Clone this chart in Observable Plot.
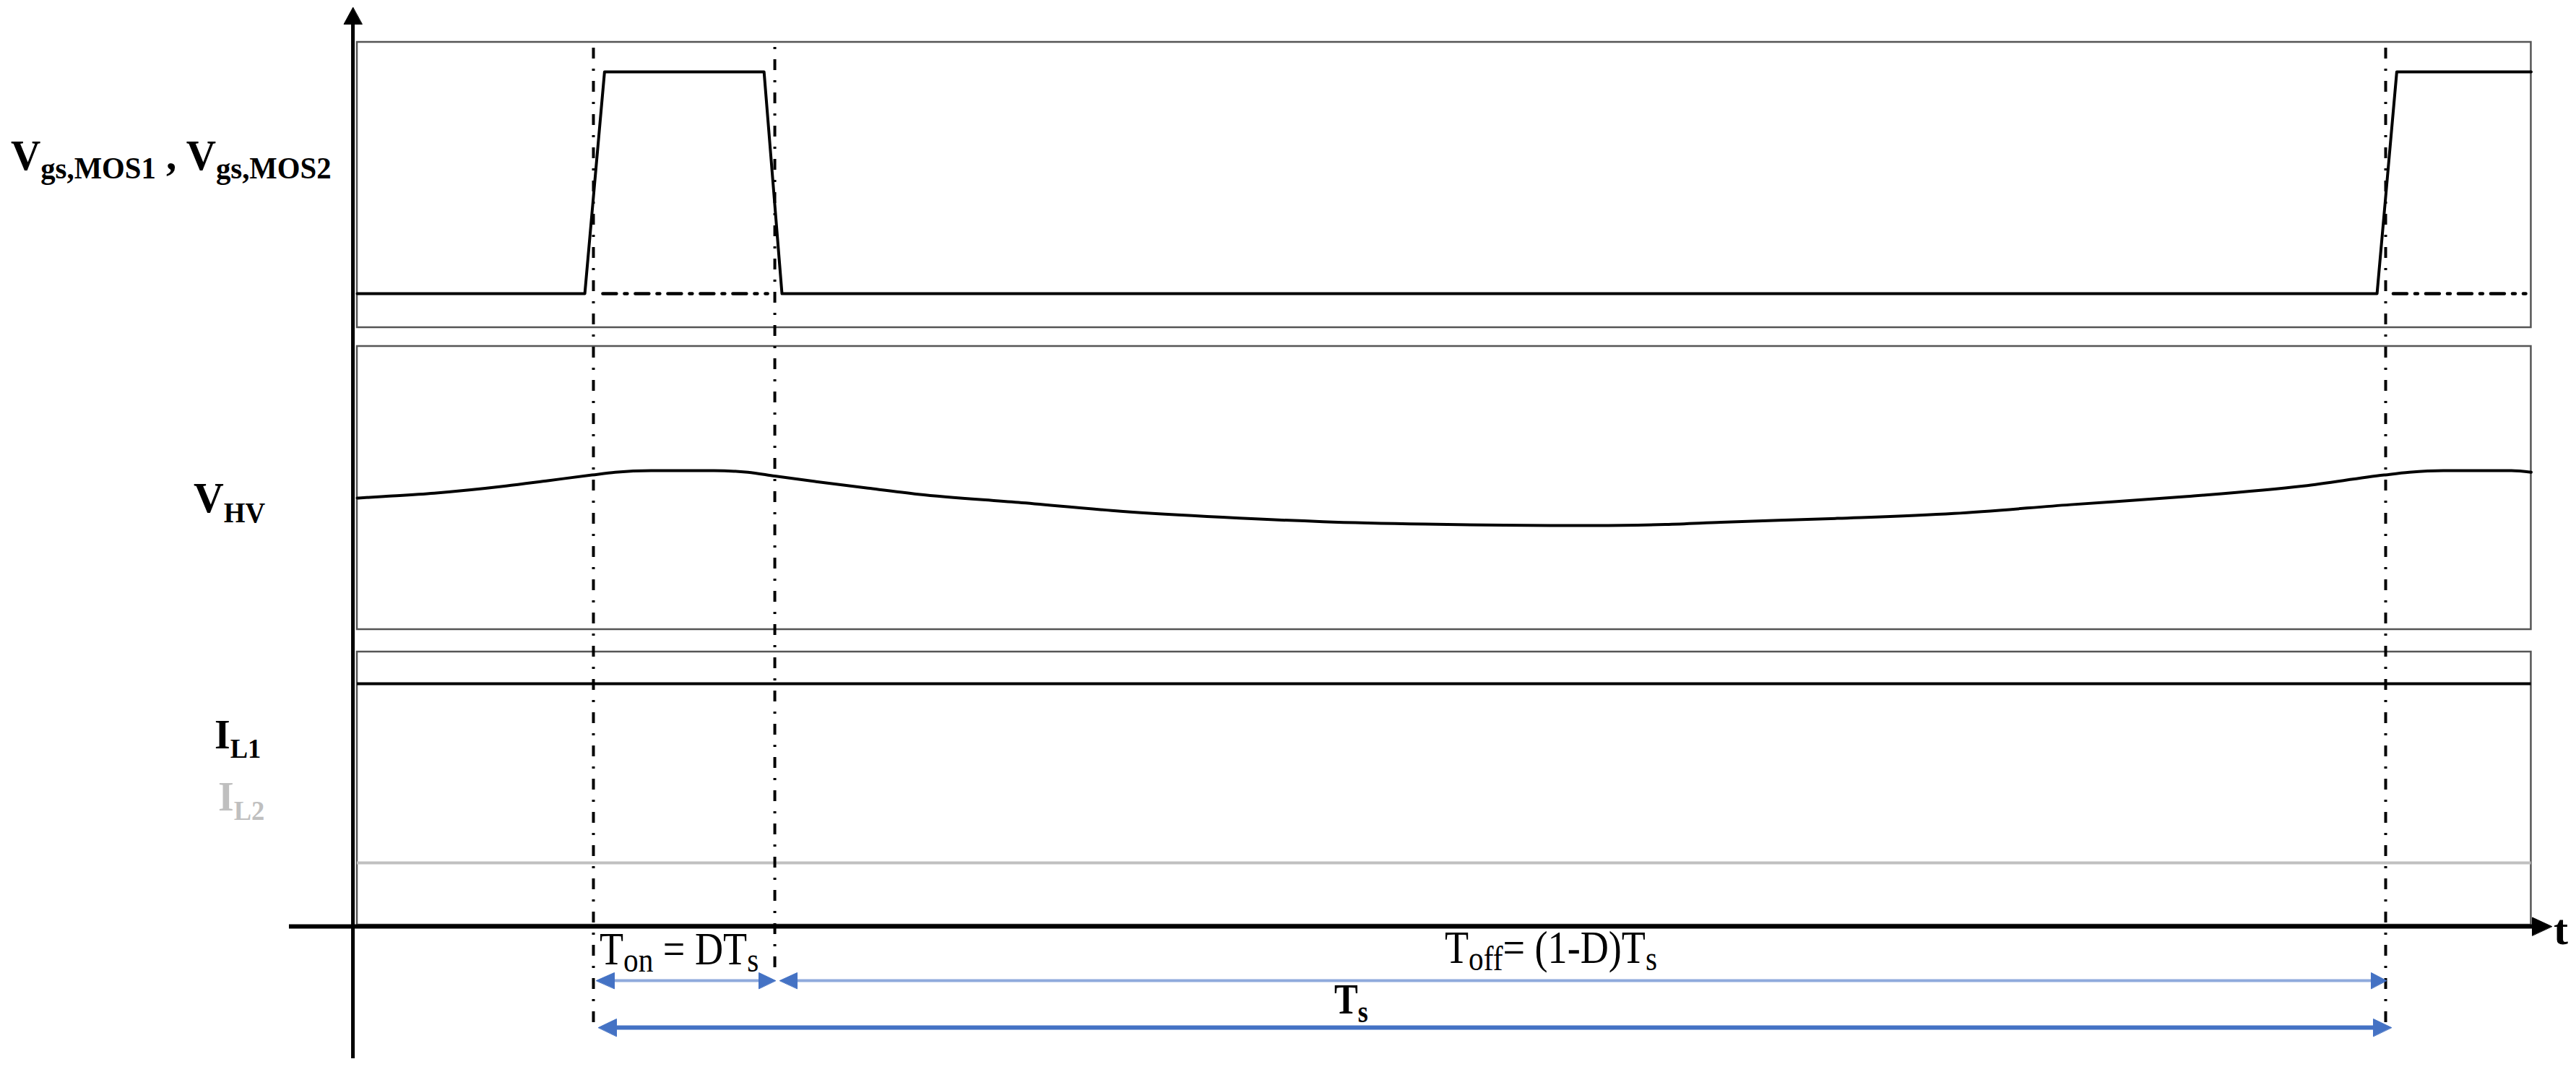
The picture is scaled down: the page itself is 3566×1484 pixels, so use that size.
<!DOCTYPE html>
<html>
<head>
<meta charset="utf-8">
<script src="https://cdn.jsdelivr.net/npm/d3@7"></script>
<script src="https://cdn.jsdelivr.net/npm/@observablehq/plot@0.6"></script>
<style>
html,body{margin:0;padding:0;background:#fff;overflow:hidden;}
#chart svg{display:block;}
</style>
</head>
<body>
<div id="chart"></div>
<script>
// ================= DATA (time normalised to the switching period Ts = 1) =================
const Ts = 1;
const tOn = 0.1318;            // turn-on instant
const D = 0.1012;              // duty ratio
const tOff = tOn + D * Ts;     // turn-off instant
const tNext = tOn + Ts;        // next turn-on
const tEnd = 1.213;            // end of the drawn window

// gate signals (normalised 0 = low, 1 = high)
const vgsTime  = [0, 0.127, 0.138, 0.227, 0.237, 1.127, 1.138, 1.213];
const vgsLevel = [0, 0, 1, 1, 0, 0, 1, 1];
// second gate signal (dash-dot) stays low while the first one is high
const vgs2Segments = [[0.137, 0.229], [1.136, 1.210]];

// high-voltage side ripple (normalised 0 = min, 1 = max)
const vhvTime  = [0, 0.015, 0.043, 0.083, 0.107, 0.131, 0.144, 0.164, 0.199, 0.218, 0.233, 0.256, 0.285, 0.313, 0.369, 0.426, 0.483, 0.539, 0.596, 0.640, 0.690, 0.730, 0.761, 0.826, 0.891, 0.956, 1.021, 1.086, 1.131, 1.145, 1.164, 1.202, 1.213];
const vhvLevel = [0.50, 0.53, 0.59, 0.72, 0.82, 0.92, 0.97, 1.00, 1.00, 0.97, 0.90, 0.80, 0.68, 0.57, 0.42, 0.26, 0.15, 0.07, 0.025, 0.005, 0.00, 0.02, 0.06, 0.13, 0.22, 0.38, 0.53, 0.72, 0.92, 0.97, 1.00, 1.00, 0.97];

// inductor currents (normalised)
const iL1Level = 1;
const iL2Level = 0;

// text
const channelLabels = [
  {name: "vgs", parts: [["V", 0], ["gs,MOS1", 1], [" , V", 0], ["gs,MOS2", 1]]},
  {name: "vhv", parts: [["V", 0], ["HV", 1]]},
  {name: "il1", parts: [["I", 0], ["L1", 1]]},
  {name: "il2", parts: [["I", 0], ["L2", 1]]}
];
const intervalLabels = [
  {name: "ton",  parts: [["T", 0], ["on", 1], [" = DT", 0], ["s", 1]]},
  {name: "toff", parts: [["T", 0], ["off", 1], ["= (1-D)T", 0], ["s", 1]]},
  {name: "ts",   parts: [["T", 0], ["s", 1]]}
];
const axisLabel = "t";

// ================= LAYOUT (vertical units, time axis at 0) =================
const W = 3566, H = 1484;
const xDomain = [-0.19911, 1.23821];
const yDomain = [-2.02, 12.82];
const PXT = (xDomain[1] - xDomain[0]) / W;   // time units per pixel
const PXY = (yDomain[1] - yDomain[0]) / H;   // y units per pixel

const L = {
  panels: [
    {y1: 8.29, y2: 12.24},
    {y1: 4.11, y2: 8.03},
    {y1: 0.02, y2: 3.80}
  ],
  vgs: [8.76, 11.83], vhv: [5.55, 6.31], il: [0.88, 3.36],
  yAxisT: -0.0024, yAxisBottom: -1.83, yAxisTop: 12.72,
  xAxisStart: -0.0379, xAxisTip: 1.2245,
  dashTop: 12.19, dashBottom: -1.33, dashBottomOff: -0.57,
  arrowOn: -0.75, arrowTs: -1.40
};
const band = (b, v) => b[0] + v * (b[1] - b[0]);

// ================= derived mark tables =================
const vgsData = vgsTime.map((t, i) => ({t, y: band(L.vgs, vgsLevel[i])}));
const vhvData = vhvTime.map((t, i) => ({t, y: band(L.vhv, vhvLevel[i])}));
const vgs2Data = vgs2Segments.flatMap(([a, b], i) => [{id: i, t: a, y: band(L.vgs, 0)}, {id: i, t: b, y: band(L.vgs, 0)}]);
const panelData = L.panels.map(p => ({x1: 0, x2: tEnd, y1: p.y1, y2: p.y2}));

function head(id, tipT, tipY, dir, len, half) {
  const lt = len * PXT, ly = len * PXY, ht = half * PXT, hy = half * PXY;
  if (dir === "r") return [{id, t: tipT, y: tipY}, {id, t: tipT - lt, y: tipY + hy}, {id, t: tipT - lt, y: tipY - hy}];
  if (dir === "l") return [{id, t: tipT, y: tipY}, {id, t: tipT + lt, y: tipY + hy}, {id, t: tipT + lt, y: tipY - hy}];
  return [{id, t: tipT, y: tipY}, {id, t: tipT - ht, y: tipY - ly}, {id, t: tipT + ht, y: tipY - ly}];
}
const blackHeads = [
  ...head("y", L.yAxisT, L.yAxisTop, "u", 23, 12.5),
  ...head("x", L.xAxisTip, 0, "r", 27, 12.5)
];
const onL = tOn + 4 * PXT, onR = tOff + 1 * PXT, offL = tOff + 7 * PXT, offR = tNext + 1 * PXT;
const tsL = tOn + 7 * PXT, tsR = tNext + 8 * PXT;
const blueHeads = [
  ...head("a", onL, L.arrowOn, "l", 25, 11),
  ...head("b", onR, L.arrowOn, "r", 23, 11),
  ...head("c", offL, L.arrowOn, "l", 24, 11),
  ...head("d", offR, L.arrowOn, "r", 21, 11),
  ...head("e", tsL, L.arrowTs, "l", 25, 12),
  ...head("f", tsR, L.arrowTs, "r", 25, 12)
];

const dashV = "15,14,3,14";
const dashH = "19,11,4,11";

const plot = Plot.plot({
  width: W, height: H,
  marginTop: 0, marginRight: 0, marginBottom: 0, marginLeft: 0,
  x: {domain: xDomain, axis: null},
  y: {domain: yDomain, axis: null},
  style: {background: "#fff"},
  marks: [
    Plot.rect(panelData, {x1: "x1", x2: "x2", y1: "y1", y2: "y2", fill: "none", stroke: "#555", strokeWidth: 2.5}),
    // current waveforms
    Plot.ruleY([band(L.il, iL2Level)], {x1: 0, x2: tEnd, stroke: "#c0c0c0", strokeWidth: 4}),
    Plot.ruleY([band(L.il, iL1Level)], {x1: 0, x2: tEnd, stroke: "#000", strokeWidth: 4}),
    // gate signals
    Plot.line(vgs2Data, {x: "t", y: "y", z: "id", stroke: "#000", strokeWidth: 4.5, strokeDasharray: dashH}),
    Plot.line(vgsData, {x: "t", y: "y", stroke: "#000", strokeWidth: 4}),
    // HV voltage
    Plot.line(vhvData, {x: "t", y: "y", stroke: "#000", strokeWidth: 4, curve: "monotone-x"}),
    // switching instants
    Plot.ruleX([tOn, tNext], {y1: L.dashBottom, y2: L.dashTop, stroke: "#000", strokeWidth: 4, strokeDasharray: dashV}),
    Plot.ruleX([tOff], {y1: L.dashBottomOff, y2: L.dashTop, stroke: "#000", strokeWidth: 4, strokeDasharray: dashV}),
    // axes
    Plot.ruleY([0], {x1: L.xAxisStart, x2: L.xAxisTip - 26 * PXT, stroke: "#000", strokeWidth: 6}),
    Plot.ruleX([L.yAxisT], {y1: L.yAxisBottom, y2: L.yAxisTop - 22 * PXY, stroke: "#000", strokeWidth: 5}),
    Plot.line(blackHeads, {x: "t", y: "y", z: "id", fill: "#000", stroke: "#000", strokeWidth: 1, curve: "linear-closed"}),
    // interval arrows
    Plot.ruleY([L.arrowOn], {x1: onL + 20 * PXT, x2: onR - 20 * PXT, stroke: "#8faadc", strokeWidth: 4}),
    Plot.ruleY([L.arrowOn], {x1: offL + 20 * PXT, x2: offR - 18 * PXT, stroke: "#8faadc", strokeWidth: 4}),
    Plot.ruleY([L.arrowTs], {x1: tsL + 20 * PXT, x2: tsR - 20 * PXT, stroke: "#4472c4", strokeWidth: 6}),
    Plot.line(blueHeads, {x: "t", y: "y", z: "id", fill: "#4472c4", stroke: "#4472c4", strokeWidth: 1, curve: "linear-closed"})
  ]
});
document.getElementById("chart").appendChild(plot);

// ================= rich-text labels placed with the plot's scales =================
const sx = plot.scale("x"), sy = plot.scale("y");
const svg = d3.select(plot);
const labelPos = {
  vgs:  {t: -0.1931, y: 10.47, size: 59, sub: 42, shift: 12, bold: true, color: "#000", sx: 0.97},
  vhv:  {t: -0.0911, y: 5.73,  size: 59, sub: 39, shift: 14, bold: true, color: "#000", sx: 0.98},
  il1:  {t: -0.0794, y: 2.46,  size: 58, sub: 38, shift: 13, bold: true, color: "#000", sx: 0.96},
  il2:  {t: -0.0774, y: 1.60,  size: 58, sub: 38, shift: 13, bold: true, color: "#bfbfbf", sx: 0.96},
  ton:  {t: 0.1354,  y: -0.53, size: 63, sub: 48, shift: 10, bold: false, color: "#000", sx: 0.86},
  toff: {t: 0.6070,  y: -0.51, size: 63, sub: 48, shift: 10, bold: false, color: "#000", sx: 0.86},
  ts:   {t: 0.5453,  y: -1.21, size: 60, sub: 44, shift: 12, bold: true, color: "#000", sx: 0.82}
};
function richText(lab) {
  const o = labelPos[lab.name];
  const txt = svg.append("text")
    .attr("transform", `translate(${sx.apply(o.t)},${sy.apply(o.y)}) scale(${o.sx},1)`)
    .attr("text-anchor", "start")
    .attr("font-family", "'Liberation Serif','Times New Roman',serif")
    .attr("font-weight", o.bold ? "bold" : "normal")
    .attr("fill", o.color)
    .style("white-space", "pre");
  let cur = 0;
  lab.parts.forEach(([s, isSub]) => {
    const target = isSub ? o.shift : 0;
    txt.append("tspan").attr("dy", target - cur).attr("font-size", isSub ? o.sub : o.size).text(s);
    cur = target;
  });
}
channelLabels.forEach(richText);
intervalLabels.forEach(richText);
svg.append("text")
  .attr("x", sx.apply(1.2257)).attr("y", sy.apply(-0.25))
  .attr("text-anchor", "start")
  .attr("font-family", "'Liberation Serif','Times New Roman',serif")
  .attr("font-weight", "bold").attr("font-size", 60).attr("fill", "#000")
  .text(axisLabel);
</script>
</body>
</html>
